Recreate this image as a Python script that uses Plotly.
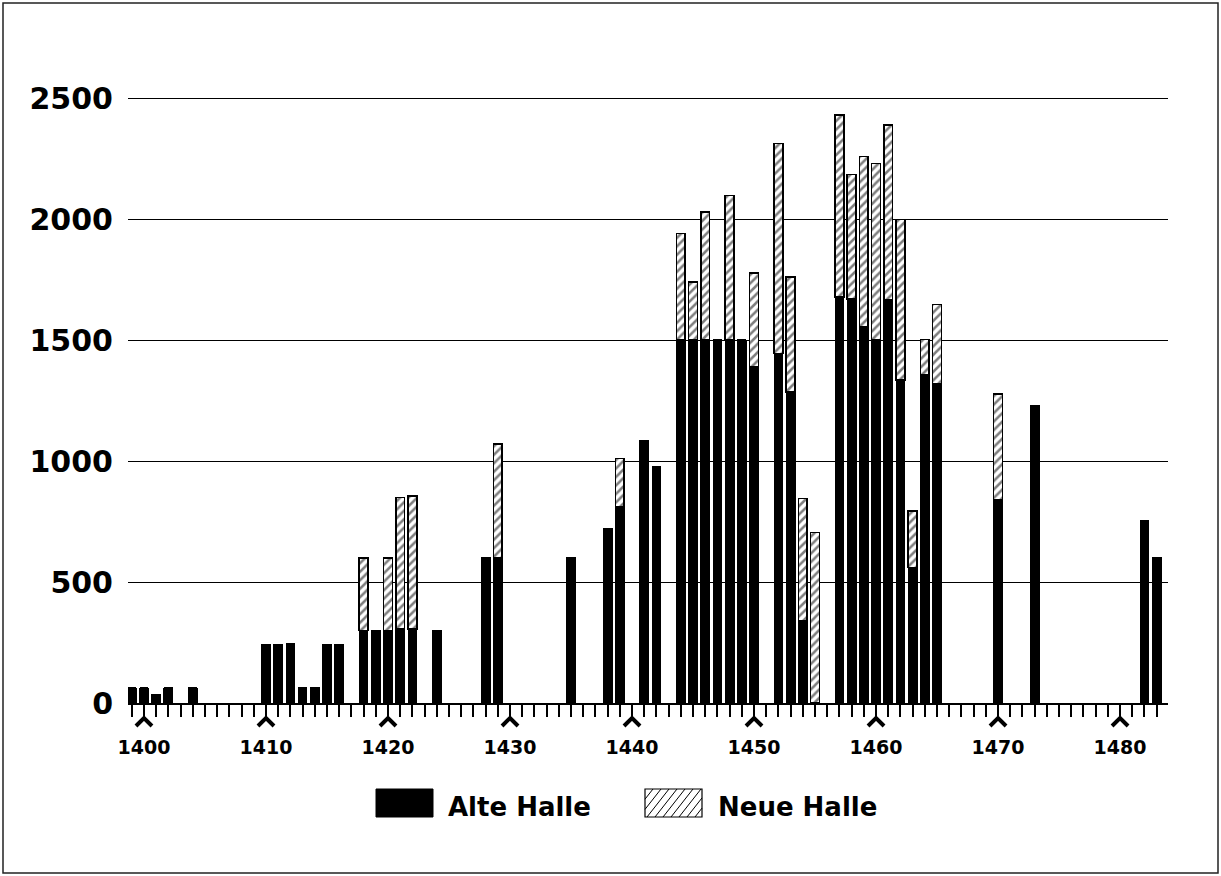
import plotly.graph_objects as go

# ---- data ----
years = [1399, 1400, 1401, 1402, 1404,
         1410, 1411, 1412, 1413, 1414, 1415, 1416,
         1418, 1419, 1420, 1421, 1422, 1424, 1428, 1429, 1435,
         1438, 1439, 1441, 1442,
         1444, 1445, 1446, 1447, 1448, 1449, 1450,
         1452, 1453, 1454, 1455,
         1457, 1458, 1459, 1460, 1461, 1462, 1463, 1464, 1465,
         1470, 1473, 1482, 1483]
alte_halle = [62, 62, 35, 62, 62,
              240, 240, 245, 65, 65, 240, 240,
              300, 300, 300, 305, 305, 300, 600, 600, 600,
              720, 810, 1085, 975,
              1500, 1500, 1500, 1500, 1500, 1500, 1390,
              1445, 1285, 342, 0,
              1678, 1671, 1554, 1500, 1667, 1336, 560, 1358, 1320,
              840, 1230, 752, 600]
neue_halle = [0, 0, 0, 0, 0,
              0, 0, 0, 0, 0, 0, 0,
              300, 0, 300, 545, 550, 0, 0, 470, 0,
              0, 200, 0, 0,
              440, 240, 530, 0, 597, 0, 387,
              868, 475, 503, 705,
              753, 514, 705, 731, 723, 662, 233, 144, 328,
              438, 0, 0, 0]
all_years = list(range(1399, 1484))
label_years = [1400, 1410, 1420, 1430, 1440, 1450, 1460, 1470, 1480]
y_ticks = [0, 500, 1000, 1500, 2000, 2500]
series_names = ["Alte Halle", "Neue Halle"]

W, H = 1221, 876
L, R, T, B = 128, 53, 74, 173
PW, PH = W - L - R, H - T - B


def px_x(p):
    return (p - L) / PW


def px_y(p):
    return (H - B - p) / PH


fig = go.Figure()
fig.add_trace(go.Bar(
    x=years, y=alte_halle, name=series_names[0], width=0.72,
    marker=dict(color="black", line=dict(color="black", width=1)),
    showlegend=False,
))
fig.add_trace(go.Bar(
    x=years, y=neue_halle, name=series_names[1], width=0.72,
    marker=dict(color="white", line=dict(color="black", width=1.5),
                pattern=dict(shape="/", fgcolor="black", bgcolor="white",
                             size=6, solidity=0.42)),
    showlegend=False,
))

ticktext = [str(y) if y in label_years else "" for y in all_years]

fig.update_layout(
    width=W, height=H,
    margin=dict(l=L, r=R, t=T, b=B),
    barmode="stack",
    plot_bgcolor="white", paper_bgcolor="white",
    font=dict(family="DejaVu Sans", color="black"),
    xaxis=dict(
        range=[1398.69, 1483.93],
        tickmode="array", tickvals=all_years, ticktext=ticktext,
        ticks="outside", ticklen=12, tickwidth=1.5, tickcolor="black",
        showline=True, linecolor="black", linewidth=1.5,
        showgrid=False, zeroline=False,
        tickfont=dict(family="DejaVu Sans", size=19, weight="bold"),
        ticklabelstandoff=14,
    ),
    yaxis=dict(
        range=[0, 2600],
        tickmode="array", tickvals=y_ticks,
        ticks="", showgrid=True, gridcolor="black", gridwidth=1,
        zeroline=False, showline=False,
        tickfont=dict(family="DejaVu Sans", size=30, weight="bold"),
        ticklabelstandoff=14,
    ),
)

shapes = []
# caret marks under the decade ticks (pixel-sized, anchored to the tick)
for yv in label_years:
    shapes.append(dict(type="path", xref="x", yref="paper",
                       xsizemode="pixel", ysizemode="pixel",
                       xanchor=yv, yanchor=0,
                       path="M-8,-23 L0,-15 L8,-23",
                       line=dict(color="black", width=4)))

# outer frame
shapes.append(dict(type="rect", xref="paper", yref="paper",
                   x0=px_x(3), x1=px_x(1218), y0=px_y(873), y1=px_y(3),
                   line=dict(color="#222", width=1.5), layer="below"))

# legend swatches
ly0, ly1 = 789, 817
shapes.append(dict(type="rect", xref="paper", yref="paper",
                   x0=px_x(376), x1=px_x(433), y0=px_y(ly1), y1=px_y(ly0),
                   fillcolor="black", line=dict(color="black", width=1)))
hx0, hx1 = 645, 702
shapes.append(dict(type="rect", xref="paper", yref="paper",
                   x0=px_x(hx0), x1=px_x(hx1), y0=px_y(ly1), y1=px_y(ly0),
                   fillcolor="white", line=dict(color="black", width=1.2)))
run = 22
hh = ly1 - ly0
path = ""
xs = hx0 - run
while xs < hx1:
    xa, ya = xs, ly1
    xb, yb = xs + run, ly0
    if xa < hx0:
        t = (hx0 - xa) / run
        xa, ya = hx0, ly1 - t * hh
    if xb > hx1:
        t = (xb - hx1) / run
        xb, yb = hx1, ly0 + t * hh
    path += f"M{px_x(xa)},{px_y(ya)} L{px_x(xb)},{px_y(yb)} "
    xs += 8
shapes.append(dict(type="path", xref="paper", yref="paper", path=path,
                   line=dict(color="black", width=1)))
fig.update_layout(shapes=shapes)

fig.add_annotation(x=px_x(446), y=px_y(807), xref="paper", yref="paper",
                   text=series_names[0], showarrow=False, xanchor="left",
                   yanchor="middle",
                   font=dict(family="DejaVu Sans", size=26, weight="bold"))
fig.add_annotation(x=px_x(716), y=px_y(807), xref="paper", yref="paper",
                   text=series_names[1], showarrow=False, xanchor="left",
                   yanchor="middle",
                   font=dict(family="DejaVu Sans", size=26, weight="bold"))

fig.write_html("out.html", config={"displayModeBar": False},
               post_script="document.body.style.margin='0';")
